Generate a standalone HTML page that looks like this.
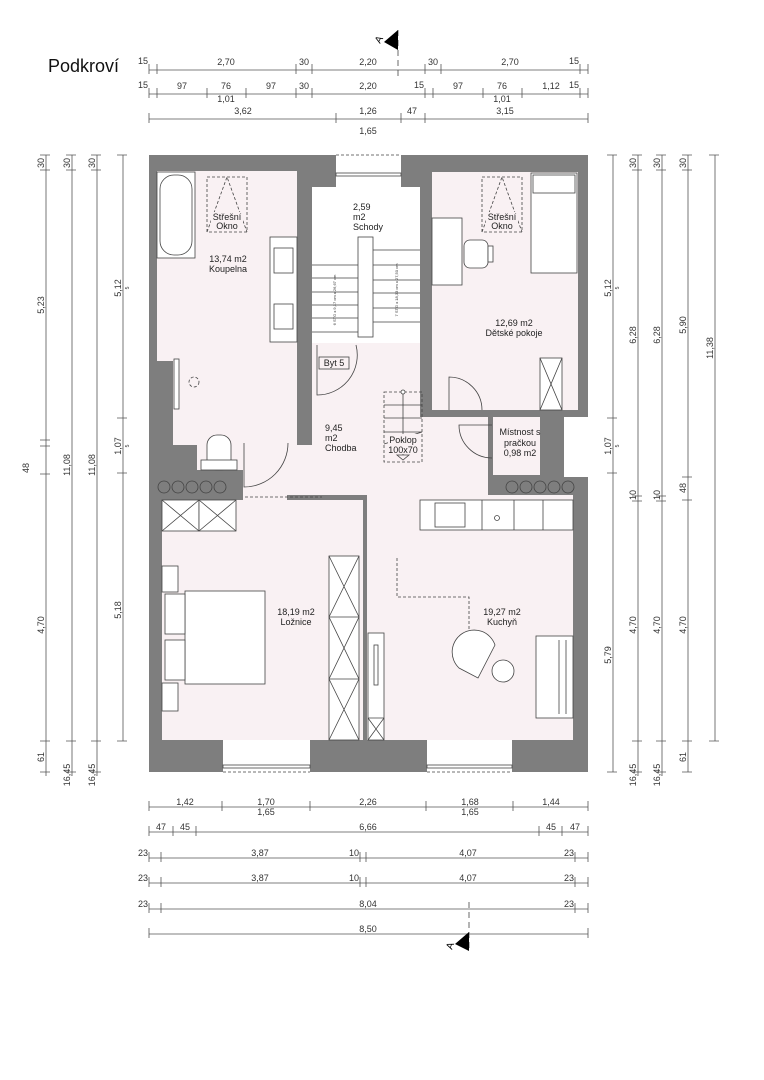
<!DOCTYPE html>
<html><head><meta charset="utf-8"><style>
html,body{margin:0;padding:0;background:#fff}
svg{display:block}
text{font-family:"Liberation Sans",sans-serif;fill:#333}
.d{stroke:#555;stroke-width:0.8;fill:none}
.t{stroke:#555;stroke-width:0.8}
.dt{font-size:9px}
.rl{font-size:9px;fill:#222}
.f{fill:#fff;stroke:#444;stroke-width:0.8}
.fn{fill:none;stroke:#444;stroke-width:0.8}
.ds{fill:none;stroke:#444;stroke-width:0.8;stroke-dasharray:3,2}
</style></head><body>
<svg width="764" height="1080" viewBox="0 0 764 1080" xmlns="http://www.w3.org/2000/svg">
<text x="48" y="72" style="font-size:18px;fill:#111">Podkroví</text>

<!-- TOP DIMENSIONS -->
<g>
<line class="d" x1="149" y1="70" x2="588" y2="70"/>
<path class="t" d="M149 64V74M157 64V74M296 64V74M312 64V74M425 64V74M441 64V74M580 64V74M588 64V74"/>
<text class="dt" x="148" y="64" text-anchor="end">15</text>
<text class="dt" x="226" y="65" text-anchor="middle">2,70</text>
<text class="dt" x="304" y="65" text-anchor="middle">30</text>
<text class="dt" x="368" y="65" text-anchor="middle">2,20</text>
<text class="dt" x="433" y="65" text-anchor="middle">30</text>
<text class="dt" x="510" y="65" text-anchor="middle">2,70</text>
<text class="dt" x="579" y="64" text-anchor="end">15</text>

<line class="d" x1="149" y1="94" x2="588" y2="94"/>
<path class="t" d="M149 88V98M157 88V98M207 88V98M246 88V98M296 88V98M312 88V98M425 88V98M433 88V98M483 88V98M522 88V98M580 88V98M588 88V98"/>
<text class="dt" x="148" y="88" text-anchor="end">15</text>
<text class="dt" x="182" y="89" text-anchor="middle">97</text>
<text class="dt" x="226" y="89" text-anchor="middle">76</text>
<text class="dt" x="226" y="102" text-anchor="middle">1,01</text>
<text class="dt" x="271" y="89" text-anchor="middle">97</text>
<text class="dt" x="304" y="89" text-anchor="middle">30</text>
<text class="dt" x="368" y="89" text-anchor="middle">2,20</text>
<text class="dt" x="424" y="88" text-anchor="end">15</text>
<text class="dt" x="458" y="89" text-anchor="middle">97</text>
<text class="dt" x="502" y="89" text-anchor="middle">76</text>
<text class="dt" x="502" y="102" text-anchor="middle">1,01</text>
<text class="dt" x="551" y="89" text-anchor="middle">1,12</text>
<text class="dt" x="579" y="88" text-anchor="end">15</text>

<line class="d" x1="149" y1="119" x2="588" y2="119"/>
<path class="t" d="M149 113V123M336 113V123M401 113V123M425 113V123M588 113V123"/>
<text class="dt" x="243" y="114" text-anchor="middle">3,62</text>
<text class="dt" x="368" y="114" text-anchor="middle">1,26</text>
<text class="dt" x="368" y="134" text-anchor="middle">1,65</text>
<text class="dt" x="412" y="114" text-anchor="middle">47</text>
<text class="dt" x="505" y="114" text-anchor="middle">3,15</text>

<line x1="398" y1="30" x2="398" y2="80" stroke="#444" stroke-width="0.8" stroke-dasharray="6,4"/>
<polygon points="398,30 398,50 384,42" fill="#000"/>
<text x="380" y="44" style="font-size:10px;fill:#000" transform="rotate(-60 380 44)">A</text>
</g>

<!-- LEFT DIMENSIONS -->
<g>
<line class="d" x1="46" y1="155" x2="46" y2="776"/>
<path class="t" d="M40 155H50M40 170H50M40 440H50M40 446H50M40 474H50M40 741H50M40 772H50"/>
<text class="dt" transform="translate(44 163) rotate(-90)" text-anchor="middle">30</text>
<text class="dt" transform="translate(44 305) rotate(-90)" text-anchor="middle">5,23</text>
<text class="dt" transform="translate(29 468) rotate(-90)" text-anchor="middle">48</text>
<text class="dt" transform="translate(44 625) rotate(-90)" text-anchor="middle">4,70</text>
<text class="dt" transform="translate(44 757) rotate(-90)" text-anchor="middle">61</text>

<line class="d" x1="72" y1="155" x2="72" y2="776"/>
<path class="t" d="M66 155H76M66 170H76M66 741H76M66 772H76"/>
<text class="dt" transform="translate(70 163) rotate(-90)" text-anchor="middle">30</text>
<text class="dt" transform="translate(70 465) rotate(-90)" text-anchor="middle">11,08</text>
<text class="dt" transform="translate(70 775) rotate(-90)" text-anchor="middle">16,45</text>

<line class="d" x1="97" y1="155" x2="97" y2="776"/>
<path class="t" d="M91 155H101M91 170H101M91 741H101M91 772H101"/>
<text class="dt" transform="translate(95 163) rotate(-90)" text-anchor="middle">30</text>
<text class="dt" transform="translate(95 465) rotate(-90)" text-anchor="middle">11,08</text>
<text class="dt" transform="translate(95 775) rotate(-90)" text-anchor="middle">16,45</text>

<line class="d" x1="123" y1="155" x2="123" y2="741"/>
<path class="t" d="M117 155H127M117 418H127M117 473H127M117 741H127"/>
<text class="dt" transform="translate(121 288) rotate(-90)" text-anchor="middle">5,12</text>
<text class="dt" transform="translate(129 288) rotate(-90)" text-anchor="middle" style="font-size:5px">5</text>
<text class="dt" transform="translate(121 446) rotate(-90)" text-anchor="middle">1,07</text>
<text class="dt" transform="translate(129 446) rotate(-90)" text-anchor="middle" style="font-size:5px">5</text>
<text class="dt" transform="translate(121 610) rotate(-90)" text-anchor="middle">5,18</text>
</g>

<!-- RIGHT DIMENSIONS -->
<g>
<line class="d" x1="613" y1="155" x2="613" y2="772"/>
<path class="t" d="M607 155H617M607 418H617M607 473H617M607 772H617"/>
<text class="dt" transform="translate(611 288) rotate(-90)" text-anchor="middle">5,12</text>
<text class="dt" transform="translate(619 288) rotate(-90)" text-anchor="middle" style="font-size:5px">5</text>
<text class="dt" transform="translate(611 446) rotate(-90)" text-anchor="middle">1,07</text>
<text class="dt" transform="translate(619 446) rotate(-90)" text-anchor="middle" style="font-size:5px">5</text>
<text class="dt" transform="translate(611 655) rotate(-90)" text-anchor="middle">5,79</text>

<line class="d" x1="638" y1="155" x2="638" y2="776"/>
<path class="t" d="M632 155H642M632 170H642M632 496H642M632 501H642M632 741H642M632 772H642"/>
<text class="dt" transform="translate(636 163) rotate(-90)" text-anchor="middle">30</text>
<text class="dt" transform="translate(636 335) rotate(-90)" text-anchor="middle">6,28</text>
<text class="dt" transform="translate(636 495) rotate(-90)" text-anchor="middle">10</text>
<text class="dt" transform="translate(636 625) rotate(-90)" text-anchor="middle">4,70</text>
<text class="dt" transform="translate(636 775) rotate(-90)" text-anchor="middle">16,45</text>

<line class="d" x1="662" y1="155" x2="662" y2="776"/>
<path class="t" d="M656 155H666M656 170H666M656 496H666M656 501H666M656 741H666M656 772H666"/>
<text class="dt" transform="translate(660 163) rotate(-90)" text-anchor="middle">30</text>
<text class="dt" transform="translate(660 335) rotate(-90)" text-anchor="middle">6,28</text>
<text class="dt" transform="translate(660 495) rotate(-90)" text-anchor="middle">10</text>
<text class="dt" transform="translate(660 625) rotate(-90)" text-anchor="middle">4,70</text>
<text class="dt" transform="translate(660 775) rotate(-90)" text-anchor="middle">16,45</text>

<line class="d" x1="688" y1="155" x2="688" y2="772"/>
<path class="t" d="M682 155H692M682 170H692M682 477H692M682 500H692M682 741H692M682 772H692"/>
<text class="dt" transform="translate(686 163) rotate(-90)" text-anchor="middle">30</text>
<text class="dt" transform="translate(686 325) rotate(-90)" text-anchor="middle">5,90</text>
<text class="dt" transform="translate(686 488) rotate(-90)" text-anchor="middle">48</text>
<text class="dt" transform="translate(686 625) rotate(-90)" text-anchor="middle">4,70</text>
<text class="dt" transform="translate(686 757) rotate(-90)" text-anchor="middle">61</text>

<line class="d" x1="715" y1="155" x2="715" y2="741"/>
<path class="t" d="M709 155H719M709 741H719"/>
<text class="dt" transform="translate(713 348) rotate(-90)" text-anchor="middle">11,38</text>
</g>

<!-- BOTTOM DIMENSIONS -->
<g>
<line class="d" x1="149" y1="807" x2="588" y2="807"/>
<path class="t" d="M149 801V811M222 801V811M310 801V811M426 801V811M513 801V811M588 801V811"/>
<text class="dt" x="185" y="805" text-anchor="middle">1,42</text>
<text class="dt" x="266" y="805" text-anchor="middle">1,70</text>
<text class="dt" x="266" y="815" text-anchor="middle">1,65</text>
<text class="dt" x="368" y="805" text-anchor="middle">2,26</text>
<text class="dt" x="470" y="805" text-anchor="middle">1,68</text>
<text class="dt" x="470" y="815" text-anchor="middle">1,65</text>
<text class="dt" x="551" y="805" text-anchor="middle">1,44</text>

<line class="d" x1="149" y1="832" x2="588" y2="832"/>
<path class="t" d="M149 826V836M173 826V836M196 826V836M539 826V836M562 826V836M588 826V836"/>
<text class="dt" x="161" y="830" text-anchor="middle">47</text>
<text class="dt" x="185" y="830" text-anchor="middle">45</text>
<text class="dt" x="368" y="830" text-anchor="middle">6,66</text>
<text class="dt" x="551" y="830" text-anchor="middle">45</text>
<text class="dt" x="575" y="830" text-anchor="middle">47</text>

<line class="d" x1="149" y1="858" x2="588" y2="858"/>
<path class="t" d="M149 852V862M161 852V862M360 852V862M366 852V862M575 852V862M588 852V862"/>
<text class="dt" x="148" y="856" text-anchor="end">23</text>
<text class="dt" x="260" y="856" text-anchor="middle">3,87</text>
<text class="dt" x="359" y="856" text-anchor="end">10</text>
<text class="dt" x="468" y="856" text-anchor="middle">4,07</text>
<text class="dt" x="574" y="856" text-anchor="end">23</text>

<line class="d" x1="149" y1="883" x2="588" y2="883"/>
<path class="t" d="M149 877V887M161 877V887M360 877V887M366 877V887M575 877V887M588 877V887"/>
<text class="dt" x="148" y="881" text-anchor="end">23</text>
<text class="dt" x="260" y="881" text-anchor="middle">3,87</text>
<text class="dt" x="359" y="881" text-anchor="end">10</text>
<text class="dt" x="468" y="881" text-anchor="middle">4,07</text>
<text class="dt" x="574" y="881" text-anchor="end">23</text>

<line class="d" x1="149" y1="909" x2="588" y2="909"/>
<path class="t" d="M149 903V913M161 903V913M575 903V913M588 903V913"/>
<text class="dt" x="148" y="907" text-anchor="end">23</text>
<text class="dt" x="368" y="907" text-anchor="middle">8,04</text>
<text class="dt" x="574" y="907" text-anchor="end">23</text>

<line class="d" x1="149" y1="934" x2="588" y2="934"/>
<path class="t" d="M149 928V938M588 928V938"/>
<text class="dt" x="368" y="932" text-anchor="middle">8,50</text>
<line x1="469" y1="902" x2="469" y2="950" stroke="#444" stroke-width="0.8" stroke-dasharray="6,4"/>
<polygon points="469,932 469,951 455,944" fill="#000"/>
<text x="452" y="950" style="font-size:10px;fill:#000" transform="rotate(-70 452 950)">A</text>
</g>

<!-- BUILDING -->
<rect x="149" y="155" width="439" height="617" fill="#7e7e7e"/>
<g fill="#f9f1f3">
<rect x="157" y="171" width="140" height="190"/>
<rect x="173" y="357" width="124" height="88"/>
<rect x="197" y="418" width="46" height="52"/>
<rect x="243" y="445" width="177" height="50"/>
<rect x="312" y="343" width="108" height="104"/>
<rect x="382" y="337" width="38" height="10"/>
<rect x="420" y="417" width="68" height="78"/>
<rect x="493" y="417" width="47" height="58"/>
<rect x="432" y="172" width="146" height="238"/>
<rect x="162" y="500" width="201" height="240"/>
<rect x="367" y="495" width="206" height="245"/>
<rect x="243" y="494" width="44" height="6"/>
</g>
<!-- stairs -->
<rect x="312" y="187" width="108" height="156" fill="#fff"/>
<rect x="312" y="337" width="70" height="6" fill="#fff"/>
<!-- windows / notches -->
<rect x="336" y="155" width="65" height="32" fill="#fff"/>
<line x1="336" y1="155" x2="401" y2="155" class="ds"/>
<rect x="336" y="173" width="65" height="3" class="f"/>
<rect x="223" y="740" width="87" height="33" fill="#fff"/>
<rect x="223" y="765" width="87" height="3" class="f"/>
<line x1="223" y1="772" x2="310" y2="772" class="ds"/>
<rect x="427" y="740" width="85" height="33" fill="#fff"/>
<rect x="427" y="765" width="85" height="3" class="f"/>
<line x1="427" y1="772" x2="512" y2="772" class="ds"/>
<rect x="564" y="417" width="24" height="60" fill="#fff"/>

<!-- circles -->
<g class="fn">
<circle cx="164" cy="487" r="6"/><circle cx="178" cy="487" r="6"/><circle cx="192" cy="487" r="6"/><circle cx="206" cy="487" r="6"/><circle cx="220" cy="487" r="6"/>
<circle cx="512" cy="487" r="6"/><circle cx="526" cy="487" r="6"/><circle cx="540" cy="487" r="6"/><circle cx="554" cy="487" r="6"/><circle cx="568" cy="487" r="6"/>
</g>

<!-- bathroom furniture -->
<rect x="157" y="172" width="38" height="86" class="f"/>
<rect x="160" y="175" width="32" height="80" rx="14" class="fn"/>
<rect x="207" y="177" width="40" height="55" class="ds"/>
<path class="ds" d="M207 232L227 177L247 232"/>
<rect x="211" y="212" width="32" height="18" fill="#f9f1f3"/>
<text class="rl" x="227" y="220" text-anchor="middle">Střešní</text>
<text class="rl" x="227" y="229" text-anchor="middle">Okno</text>
<rect x="270" y="237" width="27" height="105" class="f"/>
<rect x="274" y="248" width="19" height="25" class="fn"/>
<rect x="274" y="304" width="19" height="25" class="fn"/>
<rect x="174" y="359" width="5" height="50" class="f"/>
<circle cx="194" cy="382" r="5" class="ds"/>
<rect x="207" y="435" width="24" height="35" rx="10" class="f"/>
<rect x="201" y="460" width="36" height="10" class="f"/>
<text class="rl" x="228" y="262" text-anchor="middle">13,74 m2</text>
<text class="rl" x="228" y="272" text-anchor="middle">Koupelna</text>
<!-- bathroom door -->
<path class="fn" d="M244 443V487A44 44 0 0 0 288 443"/>

<!-- stairs -->
<g class="fn">
<path d="M312 265H358M312 278H358M312 292H358M312 305H358M312 318H358M312 332H358"/>
<rect x="358" y="237" width="15" height="100"/>
<path d="M373 250H420M373 265H420M373 280H420M373 293H420M373 308H420M373 322H420"/>
</g>
<text x="336" y="300" style="font-size:4px" transform="rotate(-90 336 300)" text-anchor="middle">6 STG x 9,17 cm x 26,67 cm</text>
<text x="398" y="290" style="font-size:4px" transform="rotate(-90 398 290)" text-anchor="middle">7 STG x 18,33 cm x 27,50 cm</text>
<text class="rl" x="353" y="210">2,59</text>
<text class="rl" x="353" y="220">m2</text>
<text class="rl" x="353" y="230">Schody</text>
<rect x="319" y="357" width="30" height="12" class="fn"/>
<text class="rl" x="334" y="366" text-anchor="middle">Byt 5</text>
<path class="fn" d="M317 345V395A40 40 0 0 0 356 345"/>

<!-- chodba -->
<rect x="384" y="392" width="38" height="70" class="ds"/>
<path class="fn" d="M384 405H422M384 418H422M384 432H422M403 392V455M384 444L422 432"/>
<circle cx="403" cy="392" r="2" class="f"/>
<path class="fn" d="M397 455H409L403 460Z"/>
<rect x="388" y="434" width="30" height="20" fill="#f9f1f3"/>
<text class="rl" x="403" y="443" text-anchor="middle">Poklop</text>
<text class="rl" x="403" y="453" text-anchor="middle">100x70</text>
<text class="rl" x="325" y="431">9,45</text>
<text class="rl" x="325" y="441">m2</text>
<text class="rl" x="325" y="451">Chodba</text>

<!-- kids room -->
<rect x="482" y="177" width="40" height="55" class="ds"/>
<path class="ds" d="M482 232L502 177L522 232"/>
<rect x="486" y="212" width="32" height="18" fill="#f9f1f3"/>
<text class="rl" x="502" y="220" text-anchor="middle">Střešní</text>
<text class="rl" x="502" y="229" text-anchor="middle">Okno</text>
<rect x="531" y="173" width="46" height="100" class="f"/>
<rect x="533" y="175" width="42" height="18" class="fn"/>
<rect x="432" y="218" width="30" height="67" class="f"/>
<rect x="464" y="240" width="24" height="28" rx="6" class="f"/>
<rect x="488" y="246" width="5" height="16" class="f"/>
<text class="rl" x="514" y="326" text-anchor="middle">12,69 m2</text>
<text class="rl" x="514" y="336" text-anchor="middle">Dětské pokoje</text>
<rect x="540" y="358" width="22" height="52" class="f"/>
<path class="fn" d="M540 358L562 410M562 358L540 410"/>
<path class="fn" d="M449 410V377A33 33 0 0 1 482 410"/>
<!-- wash room -->
<path class="fn" d="M492 425H459A33 33 0 0 0 492 458"/>
<text class="rl" x="520" y="435" text-anchor="middle">Místnost s</text>
<text class="rl" x="520" y="446" text-anchor="middle">pračkou</text>
<text class="rl" x="520" y="456" text-anchor="middle">0,98 m2</text>

<!-- bedroom -->
<rect x="162" y="500" width="37" height="31" class="f"/>
<rect x="199" y="500" width="37" height="31" class="f"/>
<path class="fn" d="M162 500L199 531M199 500L162 531M199 500L236 531M236 500L199 531"/>
<line x1="245" y1="497" x2="322" y2="497" class="ds"/>
<rect x="329" y="556" width="30" height="184" class="f"/>
<path class="fn" d="M329 617H359M329 679H359M329 556L359 617M359 556L329 617M329 617L359 679M359 617L329 679M329 679L359 740M359 679L329 740"/>
<rect x="162" y="566" width="16" height="26" class="f"/>
<rect x="162" y="683" width="16" height="28" class="f"/>
<rect x="185" y="591" width="80" height="93" class="f"/>
<rect x="165" y="594" width="20" height="40" class="f"/>
<rect x="165" y="640" width="20" height="40" class="f"/>
<text class="rl" x="296" y="615" text-anchor="middle">18,19 m2</text>
<text class="rl" x="296" y="625" text-anchor="middle">Ložnice</text>

<!-- kitchen -->
<rect x="420" y="500" width="153" height="30" class="f"/>
<path class="fn" d="M482 500V530M514 500V530M543 500V530"/>
<rect x="435" y="503" width="30" height="24" class="fn"/>
<circle cx="497" cy="518" r="2.5" class="fn"/>
<path class="ds" d="M397 558V597H469V635"/>
<path class="f" d="M459 668A22 22 0 1 1 495 645L478 678Z"/>
<circle cx="503" cy="671" r="11" class="f"/>
<rect x="536" y="636" width="37" height="82" class="f"/>
<path class="fn" d="M559 640V714M566 640V714"/>
<rect x="368" y="633" width="16" height="107" class="f"/>
<rect x="374" y="645" width="4" height="40" class="fn"/>
<path class="fn" d="M368 718L384 740M384 718L368 740M368 718H384"/>
<text class="rl" x="502" y="615" text-anchor="middle">19,27 m2</text>
<text class="rl" x="502" y="625" text-anchor="middle">Kuchyň</text>
</svg>
</body></html>
